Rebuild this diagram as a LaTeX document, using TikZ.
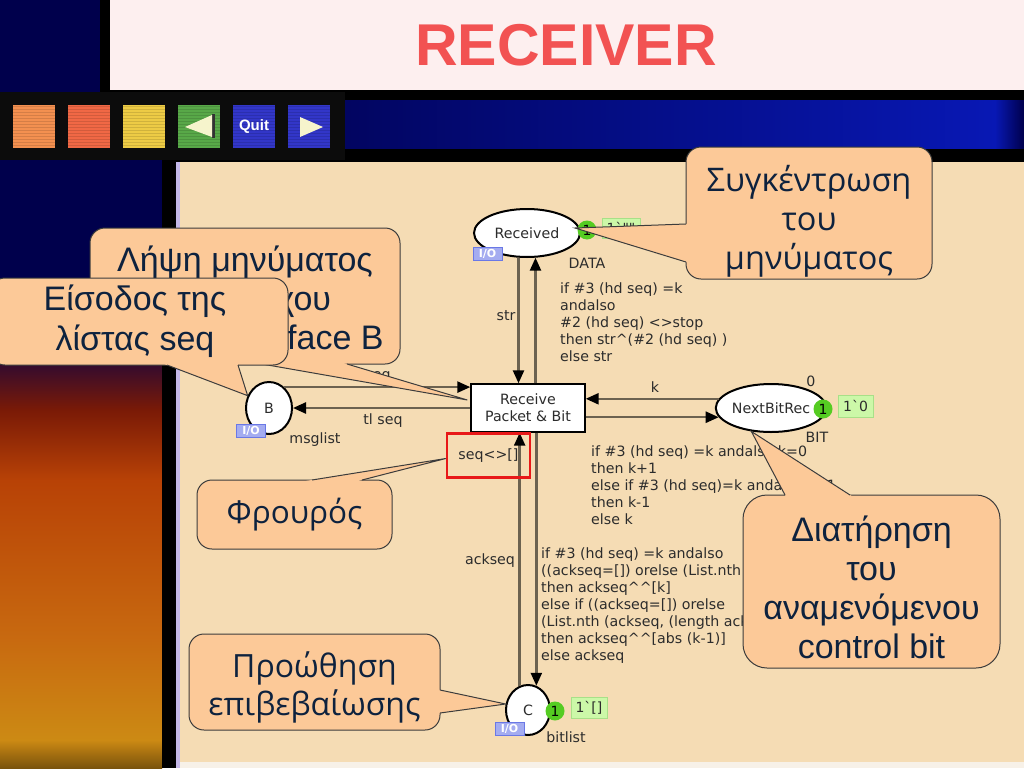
\documentclass[tikz,border=0pt]{standalone}
\usepackage{fontspec}
\newfontfamily\cpnfont{DejaVu Sans}
\newfontfamily\slidefont{Liberation Sans}
\newfontfamily\notefont{Open Sans}
\usetikzlibrary{arrows.meta,shapes.geometric,calc}
\definecolor{titlepink}{HTML}{FDEFEF}
\definecolor{titlered}{HTML}{F25252}
\definecolor{navy}{HTML}{00004C}
\definecolor{toolbar}{HTML}{0C0C0C}
\definecolor{btnorange}{HTML}{F39050}
\definecolor{btnred}{HTML}{F06845}
\definecolor{btnyellow}{HTML}{EDCB45}
\definecolor{btngreen}{HTML}{58A848}
\definecolor{btnblue}{HTML}{3236C8}
\definecolor{arrowpale}{HTML}{F6F4CC}
\definecolor{bandblue}{HTML}{0818B4}
\definecolor{lavender}{HTML}{C4B8E8}
\definecolor{panel}{HTML}{F5DCB4}
\definecolor{panellight}{HTML}{F7F1E8}
\definecolor{arcgray}{HTML}{6C6250}
\definecolor{cpntext}{HTML}{2C2C2C}
\definecolor{tokgreen}{HTML}{55CC22}
\definecolor{markgreen}{HTML}{CCF8A8}
\definecolor{markedge}{HTML}{A8E088}
\definecolor{iofill}{HTML}{A4ACF0}
\definecolor{ioedge}{HTML}{6A78E6}
\definecolor{guardred}{HTML}{E81818}
\definecolor{notefill}{HTML}{FCC998}
\definecolor{noteedge}{HTML}{3C3C3C}
\definecolor{notetext}{HTML}{0E223E}
\definecolor{rustdark}{HTML}{7A1A06}
\definecolor{rust}{HTML}{B84206}
\definecolor{amber}{HTML}{C86A10}
\definecolor{gold}{HTML}{CC8A14}
\tikzset{
    place/.style={ellipse,draw=black,line width=2pt,fill=white,inner sep=0pt,
        text=cpntext,font=\cpnfont\fontsize{14.2}{17}\selectfont},
    trans/.style={rectangle,draw=black,line width=1.4pt,fill=white,inner sep=0pt,
        minimum width=114pt,minimum height=48pt,align=center,
        text=cpntext,font=\cpnfont\fontsize{14.2}{17}\selectfont},
    arc/.style={draw=arcgray,line width=2.4pt,
        -{Triangle[length=13pt,width=11pt,color=black]}},
    lbl/.style={inner sep=0pt,text=cpntext,font=\cpnfont\fontsize{14.2}{17}\selectfont},
    inscr/.style={lbl,align=left,anchor=north west},
    token/.style={circle,fill=tokgreen,inner sep=0pt,minimum size=19pt,
        text=black,font=\cpnfont\fontsize{14}{14}\selectfont},
    marking/.style={rectangle,fill=markgreen,draw=markedge,line width=1pt,inner sep=0pt,
        text=cpntext,font=\cpnfont\fontsize{14}{14}\selectfont},
    iotag/.style={rectangle,fill=iofill,draw=ioedge,line width=1pt,inner sep=0pt,
        minimum width=29pt,minimum height=13pt,text=white,
        font=\cpnfont\bfseries\fontsize{11}{11}\selectfont},
    guardbox/.style={rectangle,draw=guardred,line width=2.5pt,inner sep=0pt,
        minimum width=83pt,minimum height=44pt,text=cpntext,
        font=\cpnfont\fontsize{14.2}{14}\selectfont},
    callout/.style={rectangle,rounded corners=15pt,fill=notefill,draw=noteedge,
        line width=1pt,inner sep=0pt},
    callouttext/.style={align=center,text=notetext,inner sep=0pt},
    tailfill/.style={fill=notefill},
    tailline/.style={draw=noteedge,line width=1pt},
    button/.style={rectangle,minimum width=42pt,minimum height=43pt,inner sep=0pt}
}
\begin{document}
\begin{tikzpicture}[x=1pt,y=-1pt]
    \useasboundingbox (0,0) rectangle (1024,768);
    \clip (0,0) rectangle (1024,768);
    % slide frame
    \fill[titlepink] (110,0) rectangle (1024,90);
    \fill[navy] (0,0) rectangle (100,92);
    \fill[black] (100,0) rectangle (110,92);
    \fill[black] (110,90) rectangle (1024,162);
    \shade[left color=navy!80!bandblue,right color=bandblue] (345,100) rectangle (995,148);
    \shade[left color=bandblue,right color=navy] (995,100) rectangle (1024,148);
    \fill[navy] (0,160) rectangle (162,330);
    \shade[top color=navy,bottom color=rustdark] (0,330) rectangle (162,410);
    \shade[top color=rustdark,bottom color=rust] (0,410) rectangle (162,480);
    \shade[top color=rust,bottom color=amber] (0,480) rectangle (162,640);
    \shade[top color=amber,bottom color=gold] (0,640) rectangle (162,740);
    \shade[top color=gold,bottom color=gold!60!black] (0,740) rectangle (162,768);
    \fill[black] (162,160) rectangle (176,768);
    \fill[lavender] (176,162) rectangle (180,768);
    \fill[panel] (180,162) rectangle (1024,762);
    \fill[panellight] (180,762) rectangle (1024,768);
    % toolbar
    \fill[toolbar] (0,92) rectangle (345,160);
    \foreach \i/\c in {0/btnorange,1/btnred,2/btnyellow,3/btngreen,4/btnblue,5/btnblue} {
        \node[button,fill=\c] (btn\i) at (34+55*\i,126.5) {};
        \foreach \y in {106,109,...,146} {
            \draw[black,opacity=0.12,line width=1pt] (13+55*\i,\y) -- ++(42,0);
        }
    }
    \fill[black!80] (212,114) rectangle (215,138);
    \fill[arrowpale] (185,127) -- (212,115) -- (212,137) -- cycle;
    \fill[arrowpale] (300,117) -- (323,127) -- (300,137) -- cycle;
    \node[text=white,font=\slidefont\bfseries\fontsize{15}{15}\selectfont] at (btn4) {Quit};
    \node[text=titlered,font=\slidefont\bfseries\fontsize{59}{59}\selectfont] (title) at (566,45) {RECEIVER};

    % net
    \node[place,minimum width=106pt,minimum height=48pt] (received) at (527,233) {Received};
    \node[trans] (recv) at (528,408) {Receive\\Packet \& Bit};
    \node[place,minimum width=46pt,minimum height=52pt] (placeB) at (269,408) {B};
    \node[place,minimum width=100pt,minimum height=48pt] (nextbit) at (771,408) {NextBitRec};
    \node[place,minimum width=44pt,minimum height=50pt] (placeC) at (528,710) {C};

    \draw[arc] (received.251) -- (received.251 |- recv.north);
    \draw[arc] (recv.north -| received.289) -- (received.289);
    \draw[arc] (placeB.54) -- (placeB.54 -| recv.west);
    \draw[arc] (recv.west) -- (placeB.east);
    \draw[arc] (nextbit.170) -- (nextbit.170 -| recv.east);
    \draw[arc] (recv.east |- nextbit.190) -- (nextbit.190);
    \draw[arc] (placeC.109) -- (placeC.109 |- recv.south);
    \draw[arc] (recv.south -| placeC.71) -- (placeC.71);

    \node[guardbox] (guard) at (488.5,455.5) {seq<>[]};

    \node[iotag] (ioRec) at (487.5,253.5) {I/O};
    \node[iotag] (ioB) at (251,431) {I/O};
    \node[iotag] (ioC) at (509.5,729) {I/O};
    \node[token] (tokRec) at (587,230) {1};
    \node[token] (tokBit) at (823,409) {1};
    \node[token] (tokC) at (555,711) {1};
    \node[marking,minimum width=38pt,minimum height=20pt] (markRec) at (621,228) {1\textasciigrave""};
    \node[marking,minimum width=35pt,minimum height=22pt] (markBit) at (855.5,406) {1\textasciigrave 0};
    \node[marking,minimum width=36pt,minimum height=21pt] (markC) at (589,707.5) {1\textasciigrave []};

    \node[lbl] (typeRec) at (587,263) {DATA};
    \node[lbl] (typeB) at (315,440) {msglist};
    \node[lbl] (typeBit) at (817,437) {BIT};
    \node[lbl] (initBit) at (811,381) {0};
    \node[lbl] (typeC) at (566,737) {bitlist};
    \node[lbl] (strLbl) at (506,316) {str};
    \node[lbl] (seqLbl) at (378,377) {seq};
    \node[lbl] (tlLbl) at (383,421) {tl seq};
    \node[lbl] (kLbl) at (655,387) {k};
    \node[lbl] (ackLbl) at (490,561) {ackseq};
    \node[inscr] (strExpr) at (560,283) {if \#3 (hd seq) =k\\andalso\\\#2 (hd seq) <>stop\\then str\textasciicircum(\#2 (hd seq) )\\else str};
    \node[inscr] (kExpr) at (591,446) {if \#3 (hd seq) =k andalso k=0\\then k+1\\else if \#3 (hd seq)=k andalso k=1\\then k-1\\else k};
    \node[inscr] (ackExpr) at (541,548) {if \#3 (hd seq) =k andalso\\((ackseq=[]) orelse (List.nth (acks\\then ackseq\textasciicircum\textasciicircum[k]\\else if ((ackseq=[]) orelse\\(List.nth (ackseq, (length acks\\then ackseq\textasciicircum\textasciicircum[abs (k-1)]\\else ackseq};

    % callouts
    \node[callout,minimum width=246pt,minimum height=132pt] (sync) at (809,213) {};
    \fill[tailfill] ($(686,224)!-8pt!([xshift=-6pt,yshift=5pt]received.east)$) -- ([xshift=-6pt,yshift=5pt]received.east)
        -- ($(686,262)!-8pt!([xshift=-6pt,yshift=5pt]received.east)$) -- cycle;
    \draw[tailline] (686,224) -- ([xshift=-6pt,yshift=5pt]received.east) -- (686,262);
    \node[callouttext,font=\notefont\fontsize{32.5}{39}\selectfont] (syncText) at ([yshift=-8pt]sync.center) {Συγκέντρωση\\του\\μηνύματος};

    \node[callout,minimum width=310pt,minimum height=136pt] (lipsi) at (245,296) {};
    \fill[tailfill] ($(262,364)!-8pt!([xshift=-3pt,yshift=8pt]recv.west)$) -- ([xshift=-3pt,yshift=8pt]recv.west)
        -- ($(347,364)!-8pt!([xshift=-3pt,yshift=8pt]recv.west)$) -- cycle;
    \draw[tailline] (262,364) -- ([xshift=-3pt,yshift=8pt]recv.west) -- (347,364);
    \node[callouttext,font=\slidefont\fontsize{34}{39}\selectfont] (lipsiText) at ([yshift=-2pt]lipsi.center) {Λήψη μηνύματος\\και ελέγχου\\από το Interface B};

    \node[callout,minimum width=298pt,minimum height=87pt] (eisodos) at (139,321.5) {};
    \fill[tailfill] ($(167,365)!-8pt!(placeB.150)$) -- (placeB.150)
        -- ($(238,365)!-8pt!(placeB.150)$) -- cycle;
    \draw[tailline] (167,365) -- (placeB.150) -- (238,365);
    \node[callouttext,font=\slidefont\fontsize{34}{40}\selectfont] (eisodosText) at ([xshift=-4pt]eisodos.center) {Είσοδος της\\λίστας seq};

    \node[callout,minimum width=195pt,minimum height=69pt] (frouros) at (294.5,514.5) {};
    \fill[tailfill] ($(312,480)!-8pt!([yshift=-3pt]guard.west)$) -- ([yshift=-3pt]guard.west)
        -- ($(362,480)!-8pt!([yshift=-3pt]guard.west)$) -- cycle;
    \draw[tailline] (312,480) -- ([yshift=-3pt]guard.west) -- (362,480);
    \node[callouttext,font=\notefont\fontsize{31.5}{38}\selectfont] (frourosText) at (frouros.center) {Φρουρός};

    \node[callout,minimum width=251pt,minimum height=96pt] (proothisi) at (314.5,682) {};
    \fill[tailfill] ($(440,690)!-8pt!(placeC.165)$) -- (placeC.165)
        -- ($(440,713)!-8pt!(placeC.165)$) -- cycle;
    \draw[tailline] (440,690) -- (placeC.165) -- (440,713);
    \node[callouttext,font=\notefont\fontsize{32}{38}\selectfont] (proothisiText) at ([yshift=-5pt]proothisi.center) {Προώθηση\\επιβεβαίωσης};

    \node[callout,rounded corners=24pt,minimum width=257pt,minimum height=173pt] (diatirisi) at (871.5,581.5) {};
    \fill[tailfill] ($(785,495)!-8pt!(nextbit.-130)$) -- (nextbit.-130)
        -- ($(850,495)!-8pt!(nextbit.-130)$) -- cycle;
    \draw[tailline] (785,495) -- (nextbit.-130) -- (850,495);
    \node[callouttext,font=\slidefont\fontsize{34}{39}\selectfont] (diatirisiText) at ([yshift=-6pt]diatirisi.center) {Διατήρηση\\του\\αναμενόμενου\\control bit};
\end{tikzpicture}
\end{document}
